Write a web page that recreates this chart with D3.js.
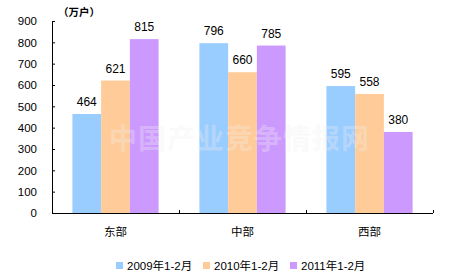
<!DOCTYPE html>
<html><head><meta charset="utf-8">
<script src="https://cdn.jsdelivr.net/npm/d3@7"></script>
<style>body{margin:0;background:#fff}svg{display:block}text{font-family:Arial,"Liberation Sans","Noto Sans CJK SC",sans-serif}</style>
</head><body><svg id="c" width="476" height="278"></svg>
<script>
const categories = ["东部", "中部", "西部"];
const seriesNames = ["2009年1-2月", "2010年1-2月", "2011年1-2月"];
const values2009 = [464, 796, 595];
const values2010 = [621, 660, 558];
const values2011 = [815, 785, 380];
const yTicks = [0, 100, 200, 300, 400, 500, 600, 700, 800, 900];
const unitLabel = "（万户）";
const watermark = "中国产业竞争情报网";

const seriesValues = [values2009, values2010, values2011];
const colors = ["#99CCFF", "#FFCC99", "#CC99FF"];
const svg = d3.select("#c");
const L = 52, R = 433, T = 21, B = 213;
const y = d3.scaleLinear().domain([0, 900]).range([B, T]);
const x0 = d3.scaleBand().domain(categories).range([L, R]).padding(0);
const x1 = d3.scaleBand().domain(seriesNames).range([0, x0.bandwidth()]).paddingInner(0).paddingOuter(0.71);

// bars
categories.forEach((c, ci) => {
  seriesNames.forEach((s, si) => {
    const v = seriesValues[si][ci];
    svg.append("rect").attr("x", x0(c) + x1(s)).attr("y", y(v))
      .attr("width", x1.bandwidth()).attr("height", B - y(v)).attr("fill", colors[si]);
    svg.append("text").attr("x", x0(c) + x1(s) + x1.bandwidth() / 2).attr("y", y(v) - 8)
      .attr("text-anchor", "middle").attr("font-size", "12px").attr("fill", "#000").text(v);
  });
});

// watermark
svg.append("text").attr("x", (L + R) / 2 - 3).attr("y", 149).attr("text-anchor", "middle")
  .attr("font-size", "28px").attr("font-weight", "bold").attr("letter-spacing", "1px")
  .attr("fill", "#f0f0f0").attr("opacity", 0.3).attr("font-family", "Noto Sans CJK SC").text(watermark);

// y axis
const yAxis = d3.axisLeft(y).tickValues(yTicks).tickSizeInner(-3).tickSizeOuter(0).tickPadding(15);
const gy = svg.append("g").attr("transform", `translate(${L},0)`).call(yAxis);
gy.select(".domain").attr("stroke", "#000");
gy.selectAll(".tick line").attr("stroke", "#000");
gy.selectAll("text").attr("font-size", "11.5px").attr("font-family", "Arial,'Liberation Sans',sans-serif").attr("fill", "#000");

// x axis
svg.append("line").attr("x1", L).attr("x2", R).attr("y1", B + 0.5).attr("y2", B + 0.5).attr("stroke", "#000");
const bounds = categories.map(c => x0(c)).concat([R]);
bounds.slice(1).forEach(b => {
  svg.append("line").attr("x1", b + 0.5).attr("x2", b + 0.5).attr("y1", B - 3).attr("y2", B).attr("stroke", "#000");
});
categories.forEach(c => {
  svg.append("text").attr("x", x0(c) + x0.bandwidth() / 2).attr("y", 236).attr("text-anchor", "middle")
    .attr("font-size", "11.5px").attr("fill", "#000").text(c);
});

// unit
svg.append("text").attr("x", 58).attr("y", 16).attr("font-size", "10.5px").attr("font-weight", "bold")
  .attr("font-family", "Noto Sans CJK SC").attr("fill", "#000").text(unitLabel);

// legend
const legendX = [116, 203, 290];
seriesNames.forEach((s, i) => {
  svg.append("rect").attr("x", legendX[i]).attr("y", 262).attr("width", 7).attr("height", 7).attr("fill", colors[i]);
  svg.append("text").attr("x", legendX[i] + 11).attr("y", 269.5).attr("font-size", "11.5px").attr("fill", "#000").text(s);
});
</script></body></html>
